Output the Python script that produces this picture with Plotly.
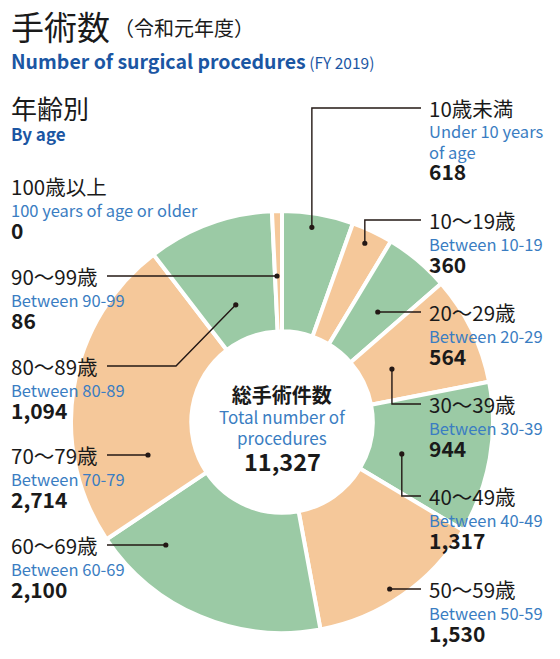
'''Donut chart: number of surgical procedures by age (FY 2019).'''
import math
import plotly.graph_objects as go

##### data #####

ages_jp = ['10歳未満', '10～19歳', '20～29歳', '30～39歳', '40～49歳', '50～59歳',
           '60～69歳', '70～79歳', '80～89歳', '90～99歳', '100歳以上']
ages_en = [['Under 10 years', 'of age'], ['Between 10-19'], ['Between 20-29'],
           ['Between 30-39'], ['Between 40-49'], ['Between 50-59'],
           ['Between 60-69'], ['Between 70-79'], ['Between 80-89'],
           ['Between 90-99'], ['100 years of age or older']]
counts = [618, 360, 564, 944, 1317, 1530, 2100, 2714, 1094, 86, 0]

title_jp = '手術数'
title_jp_sub = '（令和元年度）'
title_en = 'Number of surgical procedures'
title_en_sub = '(FY 2019)'
section_jp = '年齢別'
section_en = 'By age'
center_jp = '総手術件数'
center_en = ['Total number of', 'procedures']

##### layout settings #####

W, H = 560, 659
CX, CY, R = 282, 422, 211          # pie centre and radius in pixels
GREEN, ORANGE = '#9BCAA5', '#F5C89A'
BLACK, NAVY, BLUE = '#1a1a1a', '#1B56A3', '#3A7DC2'
FONT = 'Noto Sans CJK JP'
LINE = 22.0                        # label line spacing (baseline to baseline), px

# side of the chart and y of the first label line, per slice
label_pos = [('r', 108), ('r', 220), ('r', 312), ('r', 404), ('r', 496), ('r', 589),
             ('l', 545), ('l', 455), ('l', 366), ('l', 276), ('l', 186)]
# leader style: (kind, angle nudge in degrees, radius px, elbow x px)
leaders = [('v', -1.1, 197, None), ('v', -0.5, 197, None), ('h', 1.0, None, None),
           ('v', 0.3, 122, None), ('v', 5.0, 124, None), ('h', 2.0, None, None),
           ('h', 20.5, None, None), ('h', -23.2, None, None), ('d', -1.4, 126, 176),
           ('h', -0.6, None, None), None]


def to_paper(x, y):
    return x / W, 1 - y / H


def mid_angles(values):
    '''Mid angle of every slice, degrees clockwise from 12 o'clock.'''
    total = sum(values)
    out, cum = [], 0
    for v in values:
        out.append((cum + v / 2) / total * 360)
        cum += v
    return out


def span(s, size, color=BLACK, bold=False):
    if bold:
        s = '<b>%s</b>' % s
    return '<span style="font-size:%spx;color:%s">%s</span>' % (size, color, s)


def text(fig, x, y, s, size, color=BLACK, anchor='left'):
    px, py = to_paper(x, y)
    fig.add_annotation(x=px, y=py, xref='paper', yref='paper', text=s,
                       showarrow=False, xanchor=anchor, yanchor='middle',
                       align=anchor if anchor != 'center' else 'center',
                       borderpad=0,
                       font=dict(family=FONT, size=size, color=color))


##### figure #####

fig = go.Figure(go.Pie(
    values=counts,
    labels=ages_jp,
    sort=False,
    direction='clockwise',
    rotation=0,
    hole=0.43,
    textinfo='none',
    hoverinfo='label+value',
    marker=dict(colors=[GREEN if i % 2 == 0 else ORANGE for i in range(len(counts))],
                line=dict(color='white', width=4)),
    domain=dict(x=[(CX - R) / W, (CX + R) / W],
                y=[(H - CY - R) / H, (H - CY + R) / H]),
))

# headers
text(fig, 10, 26, title_jp, 33)
text(fig, 113, 28, title_jp_sub, 20)
text(fig, 10, 60, '<b>%s</b>%s' % (title_en, span(' ' + title_en_sub, 15.5, NAVY)), 19.5, NAVY)
text(fig, 10, 117.5, span(section_jp, 26) + '<br>' + span(section_en, 17, NAVY, True), 21.5 / 1.3)

# centre text
lines = [span(center_jp, 20, bold=True)] + [span(s, 17, BLUE) for s in center_en]
text(fig, CX, 415, '<br>'.join(lines), 21 / 1.3, anchor='center')
text(fig, CX, 461, '<b>{:,}</b>'.format(sum(counts)), 23.5, anchor='center')

# slice labels, one block per age group
for jp, en, n, (side, y0) in zip(ages_jp, ages_en, counts, label_pos):
    x0 = 428 if side == 'r' else 10
    lines = [span(jp, 20.5)] + [span(s, 16.5, BLUE) for s in en] \
            + [span('{:,}'.format(n), 21, bold=True)]
    step = LINE if len(lines) == 3 else 21.0
    text(fig, x0, y0 + (len(lines) - 1) * step / 2, '<br>'.join(lines), step / 1.3)

# leader lines with dots
mids = mid_angles(counts)
for i, spec in enumerate(leaders):
    if spec is None:
        continue
    kind, nudge, radius, elbow_x = spec
    side, y0 = label_pos[i]
    end_x = 421 if side == 'r' else 107
    th = math.radians(mids[i] + nudge)
    if kind == 'h':
        radius = (CY - y0) / math.cos(th)
    dot = (CX + radius * math.sin(th), CY - radius * math.cos(th))
    if kind == 'h':
        pts = [dot, (end_x, y0)]
    elif kind == 'v':
        pts = [dot, (dot[0], y0), (end_x, y0)]
    else:
        pts = [dot, (elbow_x, y0), (end_x, y0)]
    path = 'M ' + ' L '.join('%f %f' % to_paper(*p) for p in pts)
    fig.add_shape(type='path', xref='paper', yref='paper', path=path,
                  line=dict(color='#231815', width=1.4))
    dx, dy = to_paper(*dot)
    fig.add_shape(type='circle', xref='paper', yref='paper',
                  x0=dx - 2.6 / W, x1=dx + 2.6 / W, y0=dy - 2.6 / H, y1=dy + 2.6 / H,
                  fillcolor='#231815', line=dict(width=0))

fig.update_layout(
    width=W, height=H,
    margin=dict(l=0, r=0, t=0, b=0),
    showlegend=False,
    paper_bgcolor='white',
    plot_bgcolor='white',
)

# the page body has a default 8px margin; drop it so the figure fills the window
fig.write_html('out.html', config={'displayModeBar': False},
               post_script="document.body.style.margin = '0';")
